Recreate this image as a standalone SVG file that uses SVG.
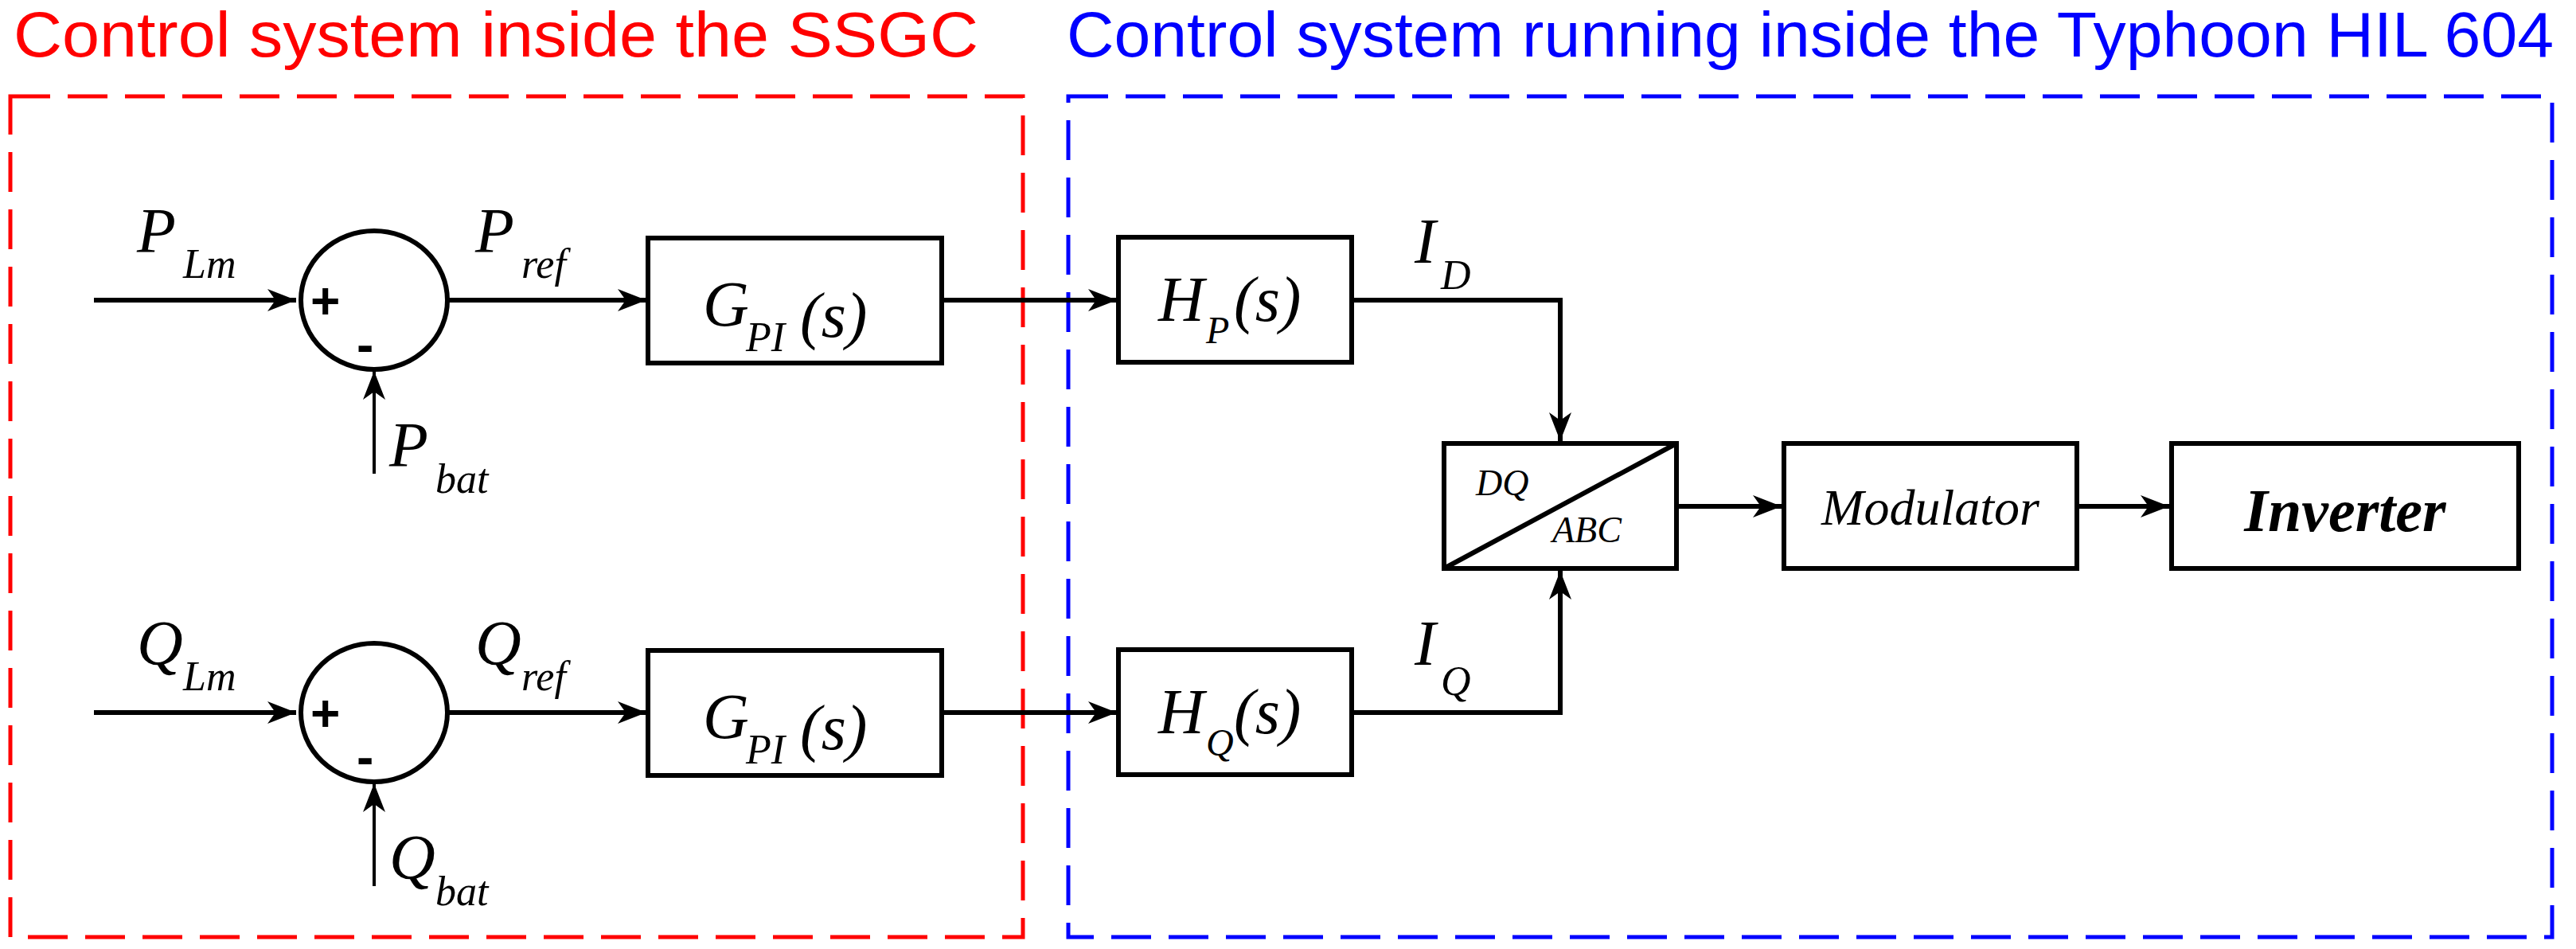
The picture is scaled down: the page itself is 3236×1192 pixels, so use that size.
<svg xmlns="http://www.w3.org/2000/svg" width="3236" height="1192" viewBox="0 0 3236 1192">
<style>
.t{font-family:"Liberation Sans",Arial,sans-serif;font-size:80px}
.m{font-family:"Liberation Serif","Times New Roman","DejaVu Serif",serif;font-style:italic}
.pm{font-family:"Liberation Sans",Arial,sans-serif;font-weight:bold;font-size:64px}
.b{fill:#fff;stroke:#000;stroke-width:6}
.l{fill:none;stroke:#000;stroke-width:6}
.lt{fill:none;stroke:#000;stroke-width:4}
</style>
<defs>
<marker id="h" viewBox="-40 -15 40 30" refX="0" refY="0" markerWidth="40" markerHeight="30" markerUnits="userSpaceOnUse" orient="auto">
<path d="M-36,-14 L0,0 L-36,14 L-26,0 Z" fill="#000"/>
</marker>
</defs>
<text class="t" x="17" y="71" fill="#ff0000" textLength="1212" lengthAdjust="spacingAndGlyphs">Control system inside the SSGC</text>
<text class="t" x="1340" y="71" fill="#0000ff" textLength="1868" lengthAdjust="spacingAndGlyphs">Control system running inside the Typhoon HIL 604</text>
<rect x="13" y="121" width="1272" height="1056" fill="none" stroke="#ff0000" stroke-width="5" stroke-dasharray="50 22"/>
<rect x="1342" y="121" width="1864" height="1056" fill="none" stroke="#0000ff" stroke-width="5" stroke-dasharray="50 22"/>
<g id="connectors">
<path class="l" d="M118,377 H372" marker-end="url(#h)"/>
<path class="l" d="M562,377 H812" marker-end="url(#h)"/>
<path class="l" d="M1183,377 H1403" marker-end="url(#h)"/>
<path class="lt" d="M470,595 V466" marker-end="url(#h)"/>
<path class="l" d="M118,895 H372" marker-end="url(#h)"/>
<path class="l" d="M562,895 H812" marker-end="url(#h)"/>
<path class="l" d="M1183,895 H1403" marker-end="url(#h)"/>
<path class="lt" d="M470,1113 V984" marker-end="url(#h)"/>
<path class="l" d="M1698,377 H1960 V554" marker-end="url(#h)"/>
<path class="l" d="M1698,895 H1960 V717" marker-end="url(#h)"/>
<path class="l" d="M2106,636 H2238" marker-end="url(#h)"/>
<path class="l" d="M2609,636 H2725" marker-end="url(#h)"/>
</g>
<g id="sum1"><ellipse cx="470" cy="377" rx="92" ry="87" class="b"/>
<text class="pm" x="390" y="400">+</text>
<text class="pm" x="448" y="455">-</text></g>
<g id="sum2"><ellipse cx="470" cy="895" rx="92" ry="87" class="b"/>
<text class="pm" x="390" y="918">+</text>
<text class="pm" x="448" y="973">-</text></g>
<g id="labels" class="m">
<text x="172" y="317" font-size="80">P</text><text x="230" y="349" font-size="52">Lm</text>
<text x="597" y="317" font-size="80">P</text><text x="655" y="349" font-size="52">ref</text>
<text x="489" y="586" font-size="80">P</text><text x="547" y="619" font-size="52">bat</text>
<text x="172" y="835" font-size="80">Q</text><text x="230" y="867" font-size="52">Lm</text>
<text x="597" y="835" font-size="80">Q</text><text x="655" y="867" font-size="52">ref</text>
<text x="489" y="1104" font-size="80">Q</text><text x="547" y="1137" font-size="52">bat</text>
<text x="1777" y="330" font-size="80">I</text><text x="1810" y="363" font-size="52">D</text>
<text x="1777" y="835" font-size="80">I</text><text x="1810" y="873" font-size="52">Q</text>
</g>
<g id="gpi1"><rect x="814" y="299" width="369" height="157" class="b"/>
<text class="m" x="883" y="409" font-size="80">G</text><text class="m" x="937" y="441" font-size="52">PI</text><text class="m" x="1005" y="423" font-size="80">(s)</text></g>
<g id="gpi2"><rect x="814" y="817" width="369" height="157" class="b"/>
<text class="m" x="883" y="927" font-size="80">G</text><text class="m" x="937" y="959" font-size="52">PI</text><text class="m" x="1005" y="941" font-size="80">(s)</text></g>
<g id="hp"><rect x="1405" y="298" width="293" height="157" class="b"/>
<text class="m" x="1455" y="403" font-size="80">H</text><text class="m" x="1515" y="431" font-size="48">P</text><text class="m" x="1550" y="403" font-size="80">(s)</text></g>
<g id="hq"><rect x="1405" y="816" width="293" height="157" class="b"/>
<text class="m" x="1455" y="921" font-size="80">H</text><text class="m" x="1515" y="949" font-size="48">Q</text><text class="m" x="1550" y="921" font-size="80">(s)</text></g>
<g id="dqabc"><rect x="1814" y="557" width="292" height="157" class="b"/>
<path class="l" d="M1814,714 L2106,557"/>
<text class="m" x="1854" y="622" font-size="46">DQ</text><text class="m" x="1950" y="681" font-size="46">ABC</text></g>
<g id="mod"><rect x="2241" y="557" width="368" height="157" class="b"/>
<text class="m" x="2425" y="659" font-size="64" text-anchor="middle">Modulator</text></g>
<g id="inv"><rect x="2728" y="557" width="436" height="157" class="b"/>
<text class="m" x="2946" y="667" font-size="76" font-weight="bold" text-anchor="middle">Inverter</text></g>
</svg>
